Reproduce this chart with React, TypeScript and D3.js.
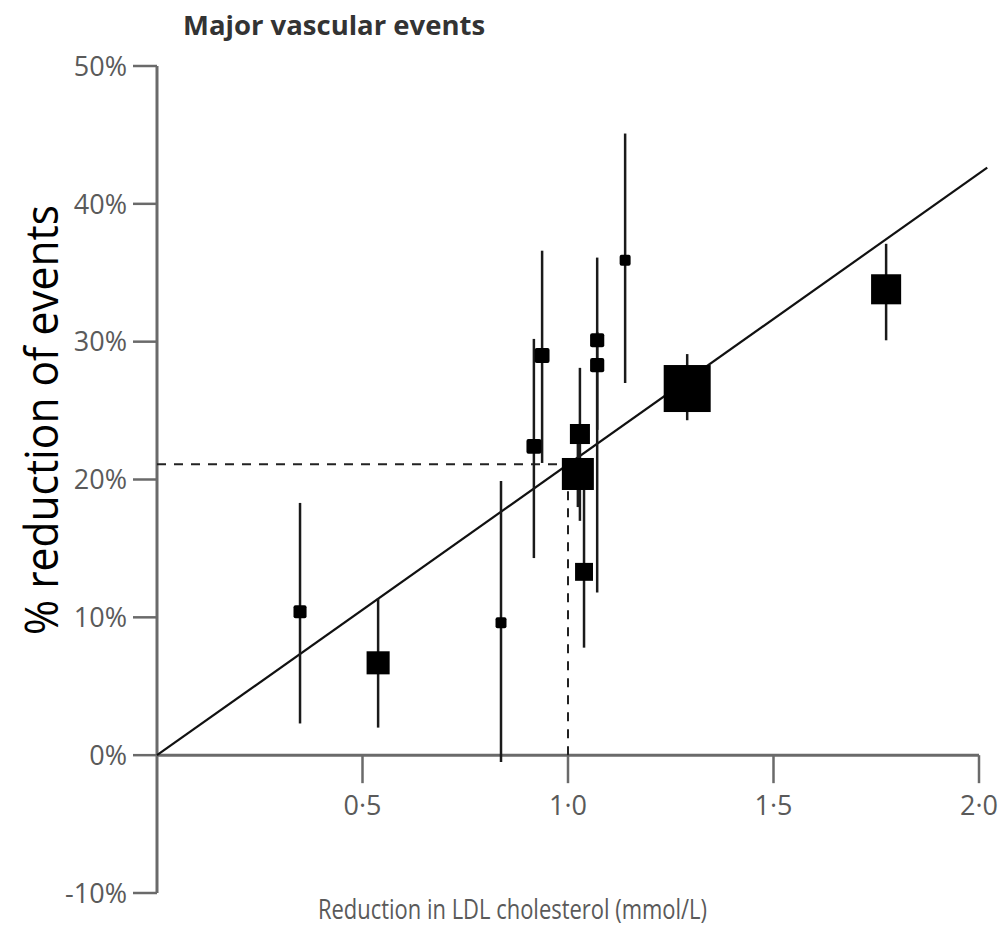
import React from 'react';
import * as d3 from 'd3';

// trial estimates: LDL reduction (mmol/L), % reduction, 95% CI, weight
const ldlDrop = [0.348, 0.538, 0.837, 0.917, 0.937, 1.071, 1.071, 1.029, 1.024, 1.039, 1.139, 1.29, 1.774];
const eventDrop = [10.4, 6.7, 9.6, 22.4, 29.0, 30.1, 28.3, 23.3, 20.4, 13.3, 35.9, 26.6, 33.8];
const ciLow = [2.3, 2.0, -0.5, 14.3, 21.2, 23.6, 11.8, 17.0, 18.0, 7.8, 27.0, 24.3, 30.1];
const ciHigh = [18.3, 11.4, 19.9, 30.2, 36.6, 36.1, 30.7, 28.1, 22.8, 19.9, 45.1, 29.1, 37.1];
const weights = [1.7, 5.3, 1.2, 2.2, 2.2, 2.0, 2.0, 4.0, 10.2, 3.2, 1.2, 22, 9];

const xTicks = [0.5, 1.0, 1.5, 2.0];
const yTicks = [-10, 0, 10, 20, 30, 40, 50];
const slope = 21.1; // % per mmol/L
const fitEnd = 2.02;

const fmtX = (d: number) => d3.format('.1f')(d).replace('.', '·');
const fmtY = (d: number) => (d < 0 ? '-' : '') + Math.abs(d) + '%';

export default function App() {
  const width = 1005;
  const height = 926;

  const x = d3.scaleLinear().domain([0, 2]).range([157, 979]);
  const y = d3.scaleLinear().domain([-10, 50]).range([893, 66]);
  const side = d3.scaleSqrt().domain([0, 22]).range([0, 47]);

  const fitLine = d3.line<number>().x(d => x(d)).y(d => y(d * slope));
  const axisColor = '#6a6a6a';
  const labelColor = '#5a5a5a';
  const font = "'Open Sans', sans-serif";

  return (
    <svg width={width} height={height} style={{ position: 'absolute', left: 0, top: 0, background: '#fff' }}>

      {/* Title */}
      <text x={183} y={35} fontFamily={font} fontWeight={700} fontSize={27.5} fill='#333'>
        Major vascular events
      </text>

      {/* Y axis */}
      <g>
        <line x1={x(0)} y1={y(50)} x2={x(0)} y2={y(-10)} stroke={axisColor} strokeWidth={3} />
        {yTicks.map(d => (
          <g key={d}>
            <line x1={x(0) - 24} y1={y(d)} x2={x(0)} y2={y(d)} stroke={axisColor} strokeWidth={2.5} />
            <text x={x(0) - 30} y={y(d)} dy='0.36em' textAnchor='end'
              fontFamily={font} fontSize={27} fill={labelColor}>
              {fmtY(d)}
            </text>
          </g>
        ))}
      </g>

      {/* X axis */}
      <g>
        <line x1={x(0)} y1={y(0)} x2={x(2)} y2={y(0)} stroke={axisColor} strokeWidth={3} />
        {xTicks.map(d => (
          <g key={d}>
            <line x1={x(d)} y1={y(0)} x2={x(d)} y2={y(0) + 28} stroke={axisColor} strokeWidth={2.5} />
            <text x={x(d)} y={y(0) + 60} textAnchor='middle'
              fontFamily={font} fontSize={27} fill={labelColor}>
              {fmtX(d)}
            </text>
          </g>
        ))}
        <text x={318} y={919} textLength={389} lengthAdjust='spacingAndGlyphs'
          fontFamily={font} fontSize={27} fill={labelColor}>
          Reduction in LDL cholesterol (mmol/L)
        </text>
      </g>

      {/* Y title */}
      <text transform={`translate(58,420) rotate(-90)`} textAnchor='middle'
        textLength={430} lengthAdjust='spacingAndGlyphs'
        fontFamily={font} fontSize={46} fill='#000'>
        % reduction of events
      </text>

      {/* Reference dashes at 1 mmol/L */}
      <line x1={x(0)} y1={y(slope)} x2={x(1)} y2={y(slope)} stroke='#222' strokeWidth={2} strokeDasharray='9,8' />
      <line x1={x(1)} y1={y(0)} x2={x(1)} y2={y(slope)} stroke='#222' strokeWidth={2} strokeDasharray='9,8' />

      {/* Regression line */}
      <path d={fitLine([0, fitEnd]) || ''} fill='none' stroke='#111' strokeWidth={2.2} />

      {/* Error bars */}
      {ldlDrop.map((d, i) => (
        <line key={'ci' + i} x1={x(d)} x2={x(d)} y1={y(ciHigh[i])} y2={y(ciLow[i])}
          stroke='#1a1a1a' strokeWidth={2.5} />
      ))}

      {/* Squares */}
      {ldlDrop.map((d, i) => {
        const s = side(weights[i]);
        return (
          <rect key={'sq' + i} x={x(d) - s / 2} y={y(eventDrop[i]) - s / 2} width={s} height={s}
            rx={s < 16 ? 2 : 0} fill='#000' />
        );
      })}
    </svg>
  );
}
